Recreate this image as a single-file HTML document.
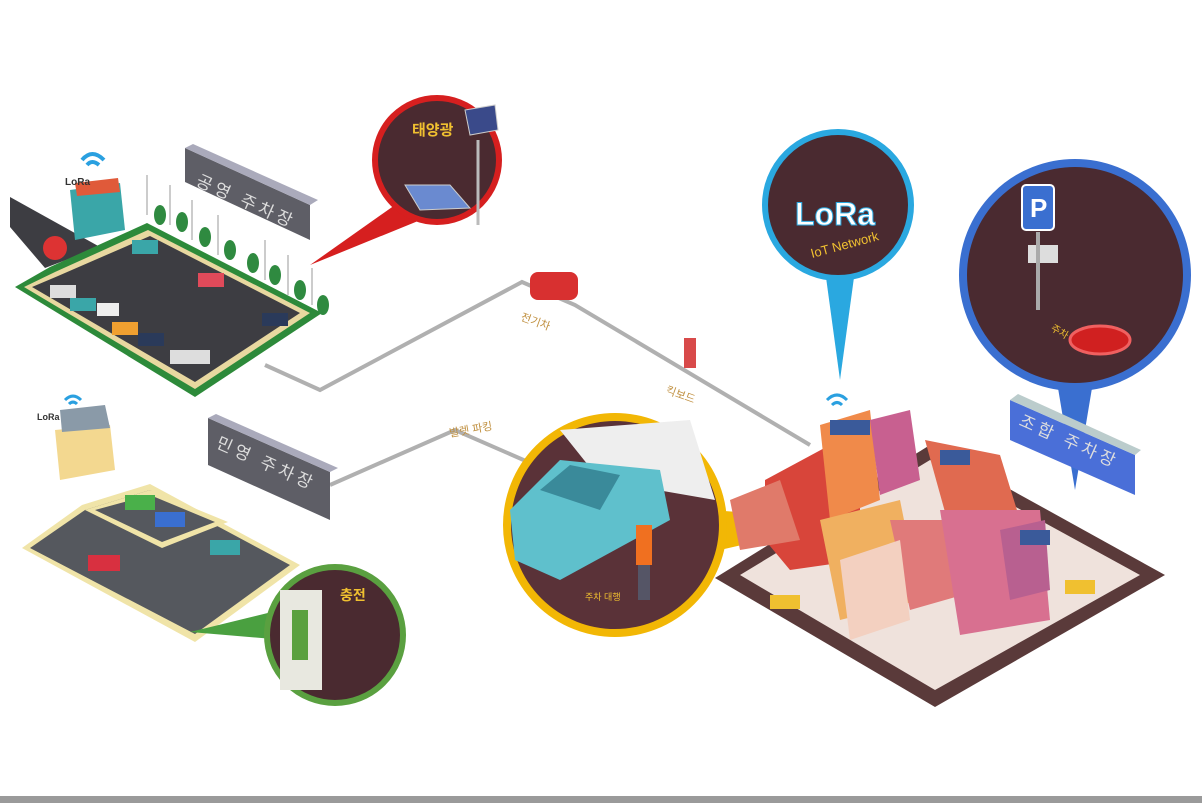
<!DOCTYPE html>
<html><head><meta charset="utf-8"><style>
html,body{margin:0;padding:0;background:#fff;}
svg{display:block;font-family:"Liberation Sans","Noto Sans CJK KR",sans-serif;}
</style></head><body>
<svg width="1202" height="803" viewBox="0 0 1202 803">
<rect width="1202" height="803" fill="#fff"/>
<rect x="0" y="796" width="1202" height="7" fill="#9a9a9a"/>
<!-- connector lines -->
<polyline points="265,365 320,390 522,282 575,305 810,445" fill="none" stroke="#b0b0b0" stroke-width="4"/>
<polyline points="330,485 455,430 535,465" fill="none" stroke="#b0b0b0" stroke-width="4"/>

<!-- public parking -->
<polygon points="10,197 100,247 45,268 10,227" fill="#3d3d42"/>
<polygon points="15,287 50,267 147,223 322,313 195,397" fill="#2d8a3a"/>
<polygon points="24,287 55,272 148,230 310,313 195,389" fill="#e8d8a0"/>
<polygon points="32,287 58,276 150,236 300,313 195,382" fill="#3d3d42"/>
<polygon points="70,190 120,183 125,230 75,240" fill="#3aa6a8"/>
<polygon points="75,183 118,178 120,192 77,196" fill="#e05a3a"/>
<circle cx="55" cy="248" r="12" fill="#d33"/>
<g fill="#2f8a40"><ellipse cx="160" cy="215" rx="6" ry="10"/><ellipse cx="182" cy="222" rx="6" ry="10"/><ellipse cx="205" cy="237" rx="6" ry="10"/><ellipse cx="230" cy="250" rx="6" ry="10"/><ellipse cx="253" cy="263" rx="6" ry="10"/><ellipse cx="275" cy="275" rx="6" ry="10"/><ellipse cx="300" cy="290" rx="6" ry="10"/><ellipse cx="323" cy="305" rx="6" ry="10"/></g>
<g stroke="#ccc" stroke-width="2"><line x1="147" y1="175" x2="147" y2="215"/><line x1="170" y1="185" x2="170" y2="225"/><line x1="192" y1="200" x2="192" y2="240"/><line x1="218" y1="215" x2="218" y2="255"/><line x1="265" y1="240" x2="265" y2="280"/><line x1="288" y1="255" x2="288" y2="295"/><line x1="312" y1="268" x2="312" y2="305"/></g>
<g><rect x="132" y="240" width="26" height="14" fill="#3aa6a8"/><rect x="198" y="273" width="26" height="14" fill="#e04a5a"/><rect x="50" y="285" width="26" height="13" fill="#ddd"/><rect x="70" y="298" width="26" height="13" fill="#3aa6a8"/><rect x="97" y="303" width="22" height="13" fill="#eee"/><rect x="112" y="322" width="26" height="13" fill="#f0a030"/><rect x="138" y="333" width="26" height="13" fill="#2a3a5a"/><rect x="262" y="313" width="26" height="13" fill="#2a3a5a"/><rect x="170" y="350" width="40" height="14" fill="#ddd"/></g>
<text x="65" y="185" font-size="10" fill="#333" font-weight="bold">LoRa</text>
<path d="M82 160 q10 -12 22 0 M87 165 q5 -6 12 0" stroke="#2aa0e0" stroke-width="4" fill="none"/>
<polygon points="185,148 310,205 310,240 185,182" fill="#5e5e66"/>
<polygon points="185,148 193,144 318,200 310,205" fill="#aab"/>
<text x="195" y="185" font-size="17" fill="#ddd" transform="rotate(24 195 185)" letter-spacing="4">공영 주차장</text>

<!-- red bubble -->
<polygon points="395,205 445,210 310,265" fill="#d61f1f"/>
<circle cx="437" cy="160" r="62" fill="#4a2a30" stroke="#d61f1f" stroke-width="6"/>
<text x="412" y="135" font-size="15" fill="#f0c030" font-weight="bold">태양광</text>
<polygon points="405,185 450,185 470,208 420,210" fill="#6a8ad0" stroke="#ccc"/>
<line x1="478" y1="140" x2="478" y2="225" stroke="#bbb" stroke-width="3"/>
<polygon points="465,110 495,105 498,130 470,135" fill="#3a4a8a" stroke="#ccc"/>

<!-- private parking -->
<polygon points="22,548 82,505 150,484 300,565 195,642" fill="#f0e4a8"/>
<polygon points="30,548 85,510 150,490 290,565 195,634" fill="#55585e"/>
<polygon points="85,510 150,490 228,522 162,548" fill="#f0e4a8"/>
<polygon points="95,510 150,495 215,522 162,542" fill="#55585e"/>
<polygon points="55,430 110,425 115,470 60,480" fill="#f3d890"/>
<polygon points="60,410 105,405 110,428 62,432" fill="#8a9aa8"/>
<rect x="125" y="495" width="30" height="15" fill="#4ab04a"/><rect x="155" y="512" width="30" height="15" fill="#3a6fd0"/>
<rect x="88" y="555" width="32" height="16" fill="#d83040"/><rect x="210" y="540" width="30" height="15" fill="#3aa6a8"/>
<text x="37" y="420" font-size="9" fill="#333" font-weight="bold">LoRa</text>
<path d="M65 400 q8 -8 16 0 M69 404 q4 -4 8 0" stroke="#2aa0e0" stroke-width="3" fill="none"/>
<polygon points="208,418 330,472 330,520 208,465" fill="#5e5e66"/>
<polygon points="208,418 216,414 338,468 330,472" fill="#aab"/>
<text x="215" y="447" font-size="17" fill="#ddd" transform="rotate(24 215 447)" letter-spacing="4">민영 주차장</text>

<!-- green bubble -->
<polygon points="280,610 285,640 190,632" fill="#4aa040"/>
<circle cx="335" cy="635" r="68" fill="#4a2a30" stroke="#5aa040" stroke-width="6"/>
<rect x="280" y="590" width="42" height="100" fill="#e8e8e0"/>
<rect x="292" y="610" width="16" height="50" fill="#5aa040"/>
<text x="340" y="600" font-size="14" fill="#f0c030" font-weight="bold">충전</text>

<!-- cars on line -->
<rect x="530" y="272" width="48" height="28" rx="8" fill="#d83030"/>
<text x="520" y="320" font-size="11" fill="#c09040" transform="rotate(20 520 320)">전기차</text>
<rect x="684" y="338" width="12" height="30" fill="#d84a4a"/>
<text x="665" y="393" font-size="11" fill="#c09040" transform="rotate(20 665 393)">킥보드</text>
<text x="450" y="437" font-size="11" fill="#c09040" transform="rotate(-10 450 437)">발렛 파킹</text>

<!-- yellow bubble -->
<polygon points="710,510 720,550 850,520" fill="#f2b705"/>
<circle cx="615" cy="525" r="108" fill="#5a3238" stroke="#f2b705" stroke-width="8"/>
<polygon points="560,430 690,420 715,500 600,480" fill="#eee"/>
<polygon points="510,510 560,460 660,470 670,520 560,580 515,560" fill="#5fc0cc"/>
<polygon points="540,490 570,465 620,475 600,510" fill="#3a8a9a"/>
<rect x="636" y="525" width="16" height="40" fill="#f07020"/>
<rect x="638" y="565" width="12" height="35" fill="#556"/>
<text x="585" y="600" font-size="9" fill="#f0c030">주차 대행</text>

<!-- LoRa bubble -->
<polygon points="825,270 855,270 840,380" fill="#2aa8e0"/>
<circle cx="838" cy="205" r="73" fill="#4a2a30" stroke="#2aa8e0" stroke-width="6"/>
<text x="795" y="225" font-size="32" fill="#fff" font-weight="bold" stroke="#2aa8e0" stroke-width="1">LoRa</text>
<text x="812" y="258" font-size="13" fill="#f0c030" transform="rotate(-15 812 258)">IoT Network</text>
<path d="M827 400 q10 -10 20 0 M832 405 q5 -5 10 0" stroke="#2aa0e0" stroke-width="3" fill="none"/>

<!-- big blue bubble -->
<polygon points="1055,370 1095,370 1075,490" fill="#3a6fd0"/>
<circle cx="1075" cy="275" r="112" fill="#4a2a30" stroke="#3a6fd0" stroke-width="8"/>
<rect x="1022" y="185" width="32" height="45" rx="4" fill="#3a6fd0" stroke="#fff" stroke-width="2"/>
<text x="1030" y="217" font-size="26" fill="#fff" font-weight="bold">P</text>
<rect x="1028" y="245" width="30" height="18" fill="#ddd"/>
<line x1="1038" y1="232" x2="1038" y2="310" stroke="#aaa" stroke-width="4"/>
<text x="1050" y="330" font-size="10" fill="#f0c030" transform="rotate(30 1050 330)">주차 센서</text>
<ellipse cx="1100" cy="340" rx="30" ry="14" fill="#d02020" stroke="#f06060" stroke-width="3"/>

<!-- city -->
<polygon points="715,578 930,445 1165,575 935,707" fill="#5a3a3a"/>
<polygon points="740,575 930,460 1140,575 935,690" fill="#efe2dc"/>
<g>
<polygon points="765,480 830,445 860,480 860,560 790,570 765,540" fill="#d8453a"/>
<polygon points="820,425 870,410 880,500 830,520" fill="#f08a4a"/>
<polygon points="870,420 910,410 920,480 880,495" fill="#c86090"/>
<polygon points="925,440 1000,455 1020,520 950,530" fill="#e06a50"/>
<polygon points="820,520 900,500 920,600 840,620" fill="#f0b060"/>
<polygon points="890,520 960,520 980,590 910,610" fill="#e07a7a"/>
<polygon points="940,510 1040,510 1050,620 960,635" fill="#d87090"/>
<polygon points="1000,530 1045,520 1050,590 1010,600" fill="#b86090"/>
<polygon points="730,500 780,480 800,540 740,550" fill="#e07a6a"/>
<polygon points="840,560 900,540 910,620 850,640" fill="#f3d0c0"/>
<rect x="830" y="420" width="40" height="15" fill="#3a5a9a"/>
<rect x="940" y="450" width="30" height="15" fill="#3a5a9a"/>
<rect x="1020" y="530" width="30" height="15" fill="#3a5a9a"/>
<rect x="770" y="595" width="30" height="14" fill="#f0c030"/>
<rect x="1065" y="580" width="30" height="14" fill="#f0c030"/>
</g>
<polygon points="1010,400 1135,455 1135,495 1010,440" fill="#4a6fd8"/>
<polygon points="1010,400 1018,394 1141,450 1135,455" fill="#bcc"/>
<text x="1018" y="425" font-size="17" fill="#ddd" transform="rotate(24 1018 425)" letter-spacing="4">조합 주차장</text>
</svg>
</body></html>
